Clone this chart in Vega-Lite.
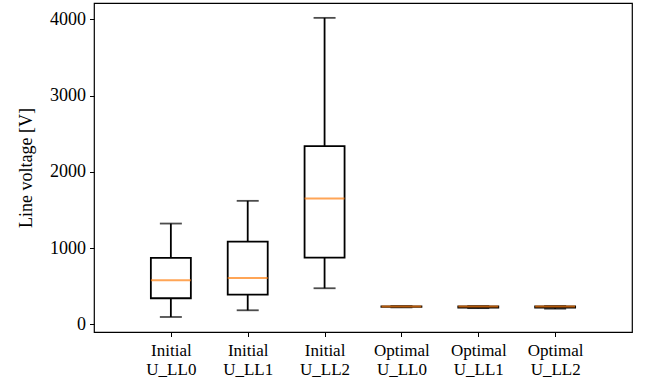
{
  "$schema": "https://vega.github.io/schema/vega-lite/v6.json",
  "width": 538,
  "height": 329,
  "autosize": "none",
  "padding": {"left": 94, "top": 3, "right": 25, "bottom": 57},
  "background": "white",
  "config": {
    "view": {"stroke": "black", "strokeWidth": 1.2},
    "font": "Liberation Serif",
    "axis": {
      "grid": false,
      "domain": false,
      "tickColor": "black",
      "tickWidth": 1,
      "tickSize": 4.5,
      "labelColor": "black",
      "labelFontSize": 18,
      "labelFont": "Liberation Serif",
      "titleFont": "Liberation Serif",
      "titleFontSize": 18,
      "titleFontWeight": "normal",
      "titleColor": "black"
    }
  },
  "data": {
    "values": [
      {"group": "Initial\nU_LL0", "low": 96, "q1": 342, "median": 578, "q3": 871, "high": 1322},
      {"group": "Initial\nU_LL1", "low": 184, "q1": 389, "median": 608, "q3": 1085, "high": 1620},
      {"group": "Initial\nU_LL2", "low": 473, "q1": 875, "median": 1650, "q3": 2339, "high": 4021},
      {"group": "Optimal\nU_LL0", "low": 222, "q1": 228, "median": 234, "q3": 236, "high": 240},
      {"group": "Optimal\nU_LL1", "low": 212, "q1": 220, "median": 232, "q3": 236, "high": 240},
      {"group": "Optimal\nU_LL2", "low": 205, "q1": 218, "median": 232, "q3": 236, "high": 240}
    ]
  },
  "encoding": {
    "x": {
      "field": "group",
      "type": "nominal",
      "sort": null,
      "scale": {"type": "point", "padding": 1},
      "axis": {
        "title": null,
        "labelAngle": 0,
        "labelPadding": 6,
        "labelFontSize": 17,
        "labelLineHeight": 19,
        "labelExpr": "split(datum.label, '\\n')"
      }
    }
  },
  "layer": [
    {
      "mark": {"type": "rule", "color": "black", "strokeWidth": 1.8},
      "encoding": {
        "y": {
          "field": "low",
          "type": "quantitative",
          "scale": {"domain": [-101, 4216], "nice": false, "zero": false},
          "axis": {
            "title": "Line voltage [V]",
            "values": [0, 1000, 2000, 3000, 4000],
            "format": "d",
            "labelPadding": 4,
            "titlePadding": 14
          }
        },
        "y2": {"field": "q1"}
      }
    },
    {
      "mark": {"type": "rule", "color": "black", "strokeWidth": 1.8},
      "encoding": {
        "y": {"field": "q3", "type": "quantitative"},
        "y2": {"field": "high"}
      }
    },
    {
      "mark": {"type": "bar", "size": 40, "fill": "white", "stroke": "black", "strokeWidth": 1.8},
      "encoding": {
        "y": {"field": "q1", "type": "quantitative"},
        "y2": {"field": "q3"}
      }
    },
    {
      "mark": {"type": "tick", "size": 22, "thickness": 1.8, "color": "black"},
      "encoding": {"y": {"field": "low", "type": "quantitative"}}
    },
    {
      "mark": {"type": "tick", "size": 22, "thickness": 1.8, "color": "black"},
      "encoding": {"y": {"field": "high", "type": "quantitative"}}
    },
    {
      "mark": {"type": "tick", "size": 40, "thickness": 2, "color": "#ff7f0e"},
      "encoding": {"y": {"field": "median", "type": "quantitative"}}
    }
  ]
}
